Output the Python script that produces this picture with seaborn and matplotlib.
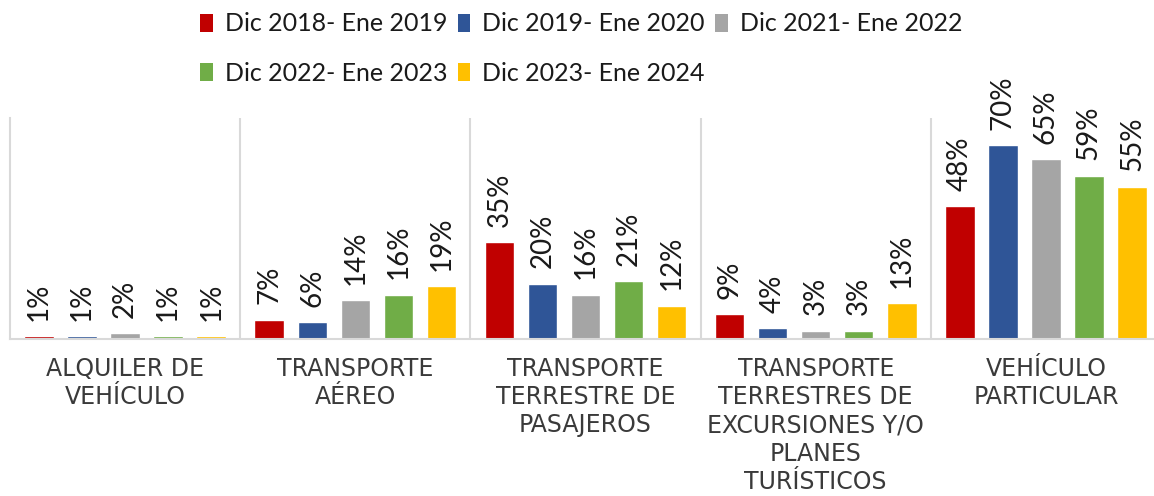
import matplotlib
matplotlib.use("Agg")
import matplotlib.pyplot as plt
import seaborn as sns
import pandas as pd
from matplotlib.patches import Patch

categories = ["Alquiler de vehículo", "Transporte aéreo", "Transporte terrestre de pasajeros",
              "Transporte terrestres de excursiones y/o planes turísticos", "Vehículo particular"]
tick_labels = ["ALQUILER DE\nVEHÍCULO", "TRANSPORTE\nAÉREO", "TRANSPORTE\nTERRESTRE DE\nPASAJEROS",
               "TRANSPORTE\nTERRESTRES DE\nEXCURSIONES Y/O\nPLANES\nTURÍSTICOS", "VEHÍCULO\nPARTICULAR"]
periods = ["Dic 2018- Ene 2019", "Dic 2019- Ene 2020", "Dic 2021- Ene 2022",
           "Dic 2022- Ene 2023", "Dic 2023- Ene 2024"]
v2018 = [1, 7, 35, 9, 48]
v2019 = [1, 6, 20, 4, 70]
v2021 = [2, 14, 16, 3, 65]
v2022 = [1, 16, 21, 3, 59]
v2023 = [1, 19, 12, 13, 55]
colors = ["#C00000", "#2F5597", "#A5A5A5", "#70AD47", "#FFC000"]

series = [v2018, v2019, v2021, v2022, v2023]
rows = []
for p, vals in zip(periods, series):
    for c, v in zip(categories, vals):
        rows.append({"cat": c, "period": p, "val": v})
df = pd.DataFrame(rows)

sns.set_theme(style="white")
plt.rcParams["font.family"] = ["Lato", "DejaVu Sans"]
txt = "#1a1a1a"

fig = plt.figure(figsize=(11.54, 4.96), dpi=100)
ax = fig.add_axes([10/1154, (496-339)/496, 1151/1154, (339-118)/496])
sns.barplot(data=df, x="cat", y="val", hue="period", order=categories, hue_order=periods,
            palette=colors, width=0.935, gap=0.315, legend=False, ax=ax, saturation=1)

ax.set_xlim(-0.5, 4.5)
ax.set_ylim(0, 79.75)
ax.set_xlabel("")
ax.set_ylabel("")
ax.set_yticks([])
ax.set_xticks(range(len(categories)))
ax.set_xticklabels(tick_labels, fontsize=17, family="DejaVu Sans", color="#3a3a3a", linespacing=1.22)
ax.tick_params(axis="x", length=0, pad=13)
for s in ["top", "right"]:
    ax.spines[s].set_visible(False)
for s in ["left", "bottom"]:
    ax.spines[s].set_color("#D9D9D9")
    ax.spines[s].set_linewidth(1.5)
for xb in [0.5, 1.5, 2.5, 3.5, 4.5]:
    ax.axvline(xb, color="#D9D9D9", lw=1.5, zorder=0)

for cont, vals in zip(ax.containers, series):
    ax.bar_label(cont, labels=[f"{v}%" for v in vals], rotation=90, padding=11,
                 fontsize=20, color=txt)

handles = [Patch(facecolor=c, edgecolor="none") for c in colors]
order = [0, 3, 1, 4, 2]
fig.legend([handles[i] for i in order], [periods[i] for i in order], ncol=3,
           loc="upper left", bbox_to_anchor=(200/1154, 0.975), frameon=False,
           handlelength=0.5, handleheight=0.75, handletextpad=0.5,
           columnspacing=0.4, labelspacing=1.05, borderpad=0, borderaxespad=0,
           prop={"size": 18}, labelcolor=txt)

fig.savefig("out.png", dpi=100)
